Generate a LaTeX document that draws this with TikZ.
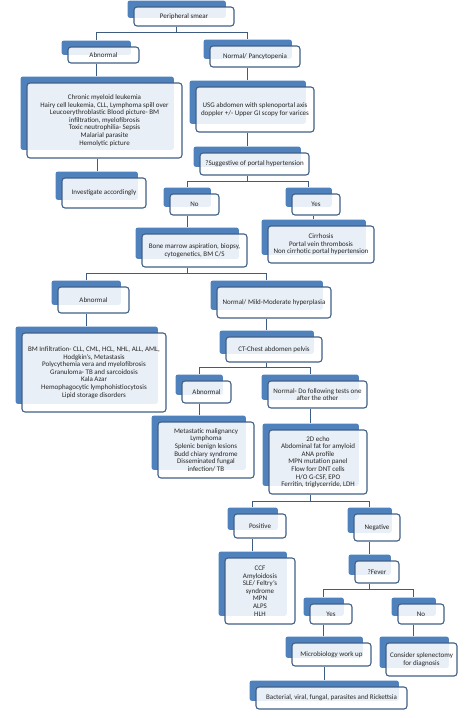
\documentclass[tikz,border=0pt]{standalone}
\usepackage{fontspec}
\setmainfont{Carlito}
\usetikzlibrary{calc,backgrounds}
\definecolor{tabblue}{RGB}{79,129,189}
\definecolor{boxline}{RGB}{66,96,135}
\definecolor{linkc}{RGB}{62,92,128}
\begin{document}
\begin{tikzpicture}[x=1pt,y=-1pt,
  box/.style={draw=boxline,line width=1.1pt,fill=white,fill opacity=0.88,text opacity=1,
    rounded corners=3pt,align=center,inner sep=1pt,text=black!85,
    font=\fontsize{7}{7.6}\selectfont},
  tab/.style={fill=tabblue,rounded corners=2pt,inner sep=0pt},
  link/.style={draw=linkc,line width=1.3pt}]
\useasboundingbox (0,0) rectangle (474,718);
% boxes, top to bottom
\node[box,minimum width=100,minimum height=19] (ps) at (184,16.5) {Peripheral smear};
\node[box,minimum width=71,minimum height=16] (ab1) at (103.5,55) {Abnormal};
\node[box,minimum width=90,minimum height=21] (np) at (255,56.5) {Normal/ Pancytopenia};
\node[box,minimum width=155,minimum height=75] (big) at (104.5,120.5) {Chronic myeloid leukemia\\Hairy cell leukemia, CLL, Lymphoma spill over\\Leucoerythroblastic Blood picture- BM\\infiltration, myelofibrosis\\Toxic neutrophilia- Sepsis\\Malarial parasite\\Hemolytic picture};
\node[box,minimum width=118,minimum height=45] (usg) at (255,109.5) {USG abdomen with splenoportal axis\\doppler +/- Upper GI scopy for varices};
\node[box,minimum width=109,minimum height=22] (sug) at (254.5,164) {?Suggestive of portal hypertension};
\node[box,minimum width=84,minimum height=30] (inv) at (104,193) {Investigate accordingly};
\node[box,minimum width=49,minimum height=21] (no1) at (194.5,204.5) {No};
\node[box,minimum width=48,minimum height=21] (yes1) at (316,204.5) {Yes};
\node[box,minimum width=106,minimum height=37] (cir) at (321,244.5) {Cirrhosis\\Portal vein thrombosis\\Non cirrhotic portal hypertension};
\node[box,minimum width=105,minimum height=33] (bm) at (194.5,250.5) {Bone marrow aspiration, biopsy,\\cytogenetics, BM C/S};
\node[box,minimum width=71,minimum height=26] (ab2) at (93.5,300) {Abnormal};
\node[box,minimum width=114,minimum height=31] (nm) at (274,302.5) {Normal/ Mild-Moderate hyperplasia};
\node[box,minimum width=144,minimum height=79] (bmi) at (94,372.5) {BM Infiltration- CLL, CML, HCL, NHL, ALL, AML,\\Hodgkin's, Metastasis\\Polycythemia vera and myelofibrosis\\Granuloma- TB and sarcoidosis\\Kala Azar\\Hemophagocytic lymphohistiocytosis\\Lipid storage disorders};
\node[box,minimum width=96,minimum height=25] (ct) at (274,349.5) {CT-Chest abdomen pelvis};
\node[box,minimum width=49,minimum height=22] (ab3) at (206.5,392) {Abnormal};
\node[box,minimum width=99,minimum height=27] (nd) at (317.5,394.5) {Normal- Do following tests one\\after the other};
\node[box,minimum width=96,minimum height=56] (met) at (206,450) {Metastatic malignancy\\Lymphoma\\Splenic benign lesions\\Budd chiary syndrome\\Disseminated fungal\\infection/ TB};
\node[box,minimum width=98,minimum height=64] (echo) at (318,462) {2D echo\\Abdominal fat for amyloid\\ANA profile\\MPN mutation panel\\Flow forr DNT cells\\H/O G-CSF, EPO\\Ferritin, triglycerride, LDH};
\node[box,minimum width=52,minimum height=24] (pos) at (260,526) {Positive};
\node[box,minimum width=46,minimum height=27] (neg) at (377,527.5) {Negative};
\node[box,minimum width=70,minimum height=66] (ccf) at (260,591) {CCF\\Amyloidosis\\SLE/ Feltry's\\syndrome\\MPN\\ALPS\\HLH};
\node[box,minimum width=44,minimum height=22] (fev) at (377,572) {?Fever};
\node[box,minimum width=42,minimum height=20] (yes2) at (331,614) {Yes};
\node[box,minimum width=46,minimum height=20] (no2) at (421,614) {No};
\node[box,minimum width=79,minimum height=23] (mic) at (331.5,654.5) {Microbiology work up};
\node[box,minimum width=71,minimum height=33] (con) at (421.5,659.5) {Consider splenectomy\\for diagnosis};
\node[box,minimum width=151,minimum height=22] (bac) at (331.5,698) {Bacterial, viral, fungal, parasites and Rickettsia};
% blue tabs behind each box
\begin{scope}[on background layer]
\foreach \b in {ps,ab1,np,big,usg,sug,inv,no1,yes1,cir,bm,ab2,nm,bmi,ct,ab3,nd,met,echo,pos,neg,ccf,fev,yes2,no2,mic,con,bac}
  \path let \p1=($(\b.south east)-(\b.north west)$) in
    node[tab,anchor=north west,minimum width={\x1-3pt},minimum height={-\y1-3pt}] (\b t) at ($(\b.north west)+(-6,-6)$) {};
\end{scope}
% connectors
\draw[link] (ps.south -| pst.center) -- ++(0,6) -| (ab1t.north);
\draw[link] (ps.south -| pst.center) -- ++(0,6) -| (npt.north);
\draw[link] (ab1.south -| ab1t.center) -- (bigt.north -| ab1t.center);
\draw[link] (np.south -| npt.center) -- (usgt.north -| npt.center);
\draw[link] (usg.south -| usgt.center) -- (sugt.north -| usgt.center);
\draw[link] (big.south -| bigt.center) -- (invt.north -| bigt.center);
\draw[link] (sug.south -| sugt.center) -- ++(0,6) -| (no1t.north);
\draw[link] (sug.south -| sugt.center) -- ++(0,6) -| (yes1t.north);
\draw[link] (yes1.south -| cirt.center) -- (cirt.north);
\draw[link] (no1.south -| no1t.center) -- (bmt.north -| no1t.center);
\draw[link] (bm.south -| bmt.center) -- ++(0,6) -| (ab2t.north);
\draw[link] (bm.south -| bmt.center) -- ++(0,6) -| (nmt.north);
\draw[link] (ab2.south -| ab2t.center) -- (bmit.north -| ab2t.center);
\draw[link] (nm.south -| nmt.center) -- (ctt.north -| nmt.center);
\draw[link] (ct.south -| ctt.center) -- ++(0,5) -| (ab3t.north);
\draw[link] (ct.south -| ctt.center) -- ++(0,5) -| (ndt.north);
\draw[link] (ab3.south -| ab3t.center) -- (mett.north -| ab3t.center);
\draw[link] (nd.south -| ndt.center) -- (echot.north -| ndt.center);
\draw[link] (echo.south -| echot.center) -- ++(0,7) -| (post.north);
\draw[link] (echo.south -| echot.center) -- ++(0,7) -| (negt.north);
\draw[link] (pos.south -| post.center) -- (ccft.north -| post.center);
\draw[link] (neg.south -| negt.center) -- (fevt.north -| negt.center);
\draw[link] (fev.south -| fevt.center) -- ++(0,6) -| (yes2t.north);
\draw[link] (fev.south -| fevt.center) -- ++(0,6) -| (no2t.north);
\draw[link] (yes2.south -| yes2t.center) -- (mict.north -| yes2t.center);
\draw[link] (no2.south -| no2t.center) -- (cont.north -| no2t.center);
\draw[link] (mic.south -| mict.center) -- (bact.north -| mict.center);
\end{tikzpicture}
\end{document}
